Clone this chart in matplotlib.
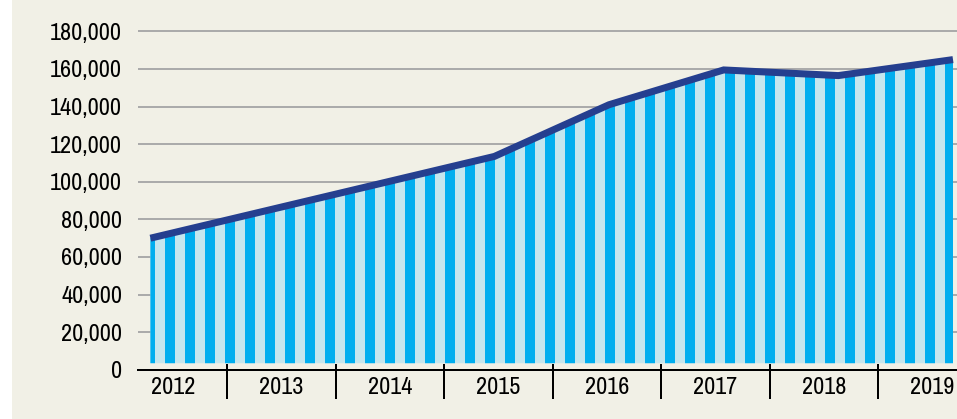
import matplotlib
matplotlib.use("Agg")
import matplotlib.pyplot as plt
from matplotlib import font_manager
from matplotlib.patches import Rectangle

# yearly totals
years = [2012, 2013, 2014, 2015, 2016, 2017, 2018, 2019]
values = [70000, 84500, 99000, 113500, 141000, 159500, 156500, 165000]
y_ticks = [0, 20000, 40000, 60000, 80000, 100000, 120000, 140000, 160000, 180000]
y_labels = ["{:,}".format(v) for v in y_ticks]
year_labels = [str(y) for y in years]

# colours
bg = "#f1f0e6"
stripe_dark = "#00aeef"
stripe_light = "#c4e6ee"
line_col = "#253f8f"
grid_col = "#ababab"

DPI = 120

# pick a narrow font if there is one, otherwise Roboto
names = sorted(set(f.name for f in font_manager.fontManager.ttflist))
family = "Roboto" if "Roboto" in names else "DejaVu Sans"
for n in names:
    if ("Narrow" in n or "Condensed" in n) and "Serif" not in n and "Mono" not in n:
        family = n
        break
plt.rcParams["font.family"] = [family, "DejaVu Sans"]
plt.rcParams["hatch.linewidth"] = 10 * 72 / DPI   # stripes ~10 px wide
plt.rcParams["hatch.color"] = stripe_dark
fsize = 14.5

fig = plt.figure(figsize=(957 / DPI, 419 / DPI), dpi=DPI, facecolor=bg)
# thin white strip on the left edge
fig.patches.append(Rectangle((0, 0), 12 / 957, 1, transform=fig.transFigure,
                             facecolor="white", edgecolor="none", zorder=-5))

ax = fig.add_axes([138 / 957, 49.2 / 419, 819 / 957, 369.8 / 419])
ax.set_facecolor("none")

x = list(range(len(years)))
px_per_unit = (953 - 150.4) / 7
ax.set_xlim((138 - 150.4) / px_per_unit, (957 - 150.4) / px_per_unit)
ax.set_ylim(0, 180000 * 369.8 / (369.8 - 31.4))

# grid lines
for v in y_ticks[1:]:
    ax.axhline(v, color=grid_col, lw=2 * 72 / DPI, zorder=1)
ax.axhline(0, color="black", lw=2 * 72 / DPI, zorder=4, clip_on=False)

# striped area
area_floor = 3500
ax.fill_between(x, area_floor, values, facecolor=stripe_light, edgecolor=stripe_dark,
                hatch="|", linewidth=0, zorder=2)
ax.plot(x, values, color=line_col, lw=7 * 72 / DPI, solid_capstyle="butt",
        solid_joinstyle="miter", zorder=3)

# y axis labels
ax.set_yticks(y_ticks)
ax.set_yticklabels(y_labels, fontsize=fsize)
ax.tick_params(axis="y", length=0, pad=16 * 72 / DPI)
ax.set_xticks([])
for s in ax.spines.values():
    s.set_visible(False)

# year bands along the bottom
band_start = (118.5 - 150.4) / px_per_unit
band_width = 108.5 / px_per_unit
trans = ax.get_xaxis_transform()
for i, lab in enumerate(year_labels):
    cx = band_start + band_width * (i + 0.5)
    ax.text(cx, -0.049, lab, transform=trans, ha="center", va="center",
            fontsize=fsize, clip_on=False)
    if i > 0:
        ex = band_start + band_width * i
        ax.plot([ex, ex], [0.013, -0.0763], transform=trans, color="black",
                lw=2 * 72 / DPI, clip_on=False, zorder=5)

fig.savefig("out.png", dpi=DPI, facecolor=bg)
